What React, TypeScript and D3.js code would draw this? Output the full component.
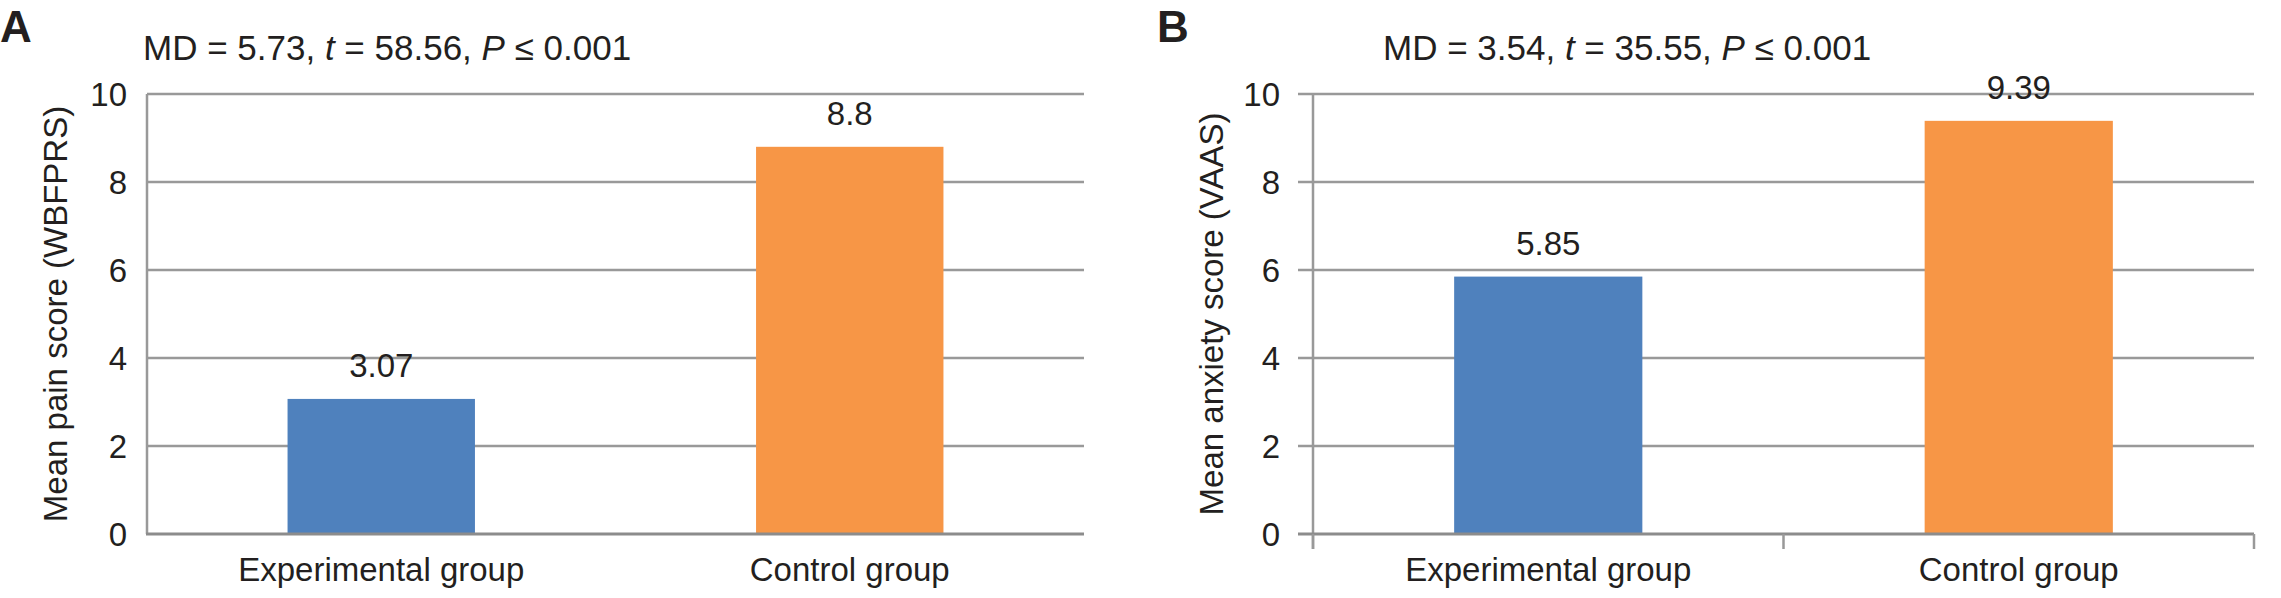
import * as d3 from "d3";

const categories = ["Experimental group", "Control group"];
const painValues = [3.07, 8.8];
const anxietyValues = [5.85, 9.39];
const valueLabels = [["3.07", "8.8"], ["5.85", "9.39"]];
const yTicks = [0, 2, 4, 6, 8, 10];
const panelLetters = ["A", "B"];
const yTitles = ["Mean pain score (WBFPRS)", "Mean anxiety score (VAAS)"];
const stats = [
  { md: "5.73", t: "58.56", p: "0.001" },
  { md: "3.54", t: "35.55", p: "0.001" },
];

const W = 2281;
const H = 598;
const FONT = "'Liberation Sans', Arial, sans-serif";
const TEXT = "#231f20";
const GRID = "#999999";
const colors = ["#4f81bd", "#f79646"];

interface PanelProps {
  idx: number;
  values: number[];
  left: number;
  right: number;
  letterX: number;
  titleX: number;
  yTitleX: number;
  ticks: boolean;
}

function Panel({ idx, values, left, right, letterX, titleX, yTitleX, ticks }: PanelProps) {
  const y = d3.scaleLinear().domain([0, 10]).range([534, 94]);
  const x = d3.scaleBand<string>().domain(categories).range([left, right]).paddingInner(0.6).paddingOuter(0.3);
  const step = x.step();
  const s = stats[idx];
  const bounds = d3.range(categories.length + 1).map((i) => left + i * step);

  return (
    <g>
      <text x={letterX} y={42} fontFamily={FONT} fontWeight="bold" fontSize={44} fill={TEXT}>
        {panelLetters[idx]}
      </text>
      <text x={titleX} y={60} fontFamily={FONT} fontSize={35} fill={TEXT}>
        {`MD = ${s.md}, `}
        <tspan fontStyle="italic">t</tspan>
        {` = ${s.t}, `}
        <tspan fontStyle="italic">P</tspan>
        {` ≤ ${s.p}`}
      </text>

      {/* gridlines */}
      {yTicks.filter((t) => t > 0).map((t) => (
        <line key={t} x1={ticks ? left - 15 : left} x2={right} y1={y(t)} y2={y(t)} stroke={GRID} strokeWidth={2.5} />
      ))}

      {/* bars */}
      {values.map((v, i) => (
        <rect key={i} x={x(categories[i])} y={y(v)} width={x.bandwidth()} height={y(0) - y(v)} fill={colors[i]} />
      ))}

      {/* axes */}
      <line x1={left} x2={left} y1={y(10)} y2={ticks ? y(0) + 15 : y(0)} stroke={GRID} strokeWidth={2.5} />
      <line x1={ticks ? left - 15 : left - 1} x2={right} y1={y(0)} y2={y(0)} stroke="#8c8c8c" strokeWidth={3} />
      {ticks && bounds.map((bx, i) => (
        <line key={i} x1={bx} x2={bx} y1={y(0)} y2={y(0) + 15} stroke={GRID} strokeWidth={2.5} />
      ))}

      {/* y tick labels */}
      {yTicks.map((t) => (
        <text key={t} x={ticks ? left - 33 : left - 20} y={y(t)} dy="0.35em" textAnchor="end" fontFamily={FONT} fontSize={33} fill={TEXT}>
          {t}
        </text>
      ))}

      {/* value labels */}
      {values.map((v, i) => (
        <text key={i} x={(x(categories[i]) ?? 0) + x.bandwidth() / 2} y={y(v) - 22} textAnchor="middle" fontFamily={FONT} fontSize={33} fill={TEXT}>
          {valueLabels[idx][i]}
        </text>
      ))}

      {/* category labels */}
      {categories.map((c) => (
        <text key={c} x={(x(c) ?? 0) + x.bandwidth() / 2} y={581} textAnchor="middle" fontFamily={FONT} fontSize={33} fill={TEXT}>
          {c}
        </text>
      ))}

      <text transform={`translate(${yTitleX},${(y(0) + y(10)) / 2}) rotate(-90)`} textAnchor="middle" fontFamily={FONT} fontSize={33} fill={TEXT}>
        {yTitles[idx]}
      </text>
    </g>
  );
}

export default function App() {
  return (
    <>
      <style>{"body{margin:0;background:#fff}"}</style>
      <svg width={W} height={H} viewBox={`0 0 ${W} ${H}`} style={{ display: "block", background: "#fff" }}>
        <Panel idx={0} values={painValues} left={147} right={1084} letterX={0} titleX={143} yTitleX={67} ticks={false} />
        <Panel idx={1} values={anxietyValues} left={1313} right={2254} letterX={1157} titleX={1383} yTitleX={1223} ticks={true} />
      </svg>
    </>
  );
}
